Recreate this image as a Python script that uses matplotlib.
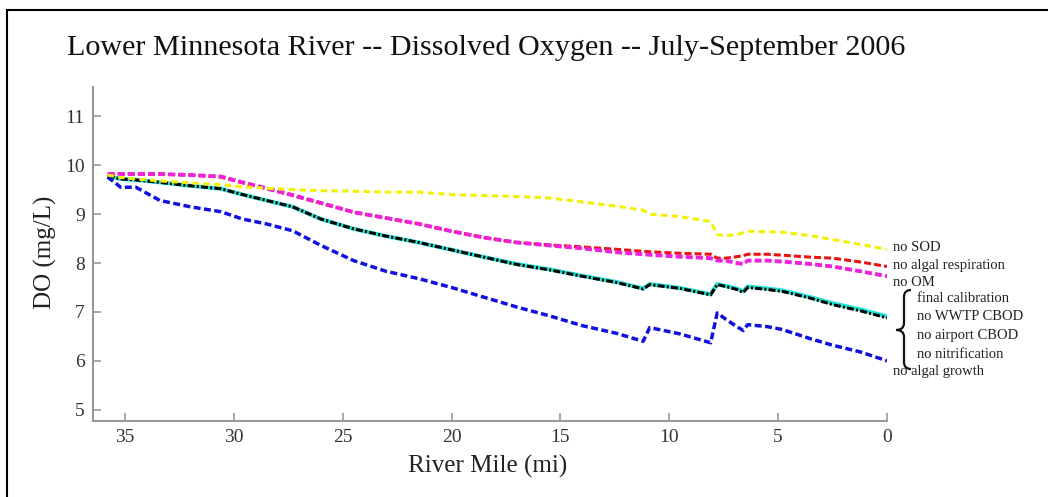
import matplotlib
matplotlib.use('Agg')
import matplotlib.pyplot as plt
from matplotlib.patches import Rectangle, PathPatch
from matplotlib.path import Path

plt.rcParams['font.family'] = ['Liberation Serif', 'DejaVu Serif']

# river mile grid shared by all scenarios
miles = [35.8, 35.2, 34.5, 33.4, 32.0, 30.6, 29.6, 28.5, 27.3, 26.0, 24.5, 23.0,
         21.5, 20.0, 18.5, 17.0, 15.5, 14.0, 12.4, 11.2, 10.9, 9.5, 8.1, 7.8,
         7.4, 6.9, 6.6, 6.4, 5.5, 4.8, 3.5, 2.5, 1.2, 0.0]

no_sod = [9.80, 9.75, 9.72, 9.68, 9.64, 9.60, 9.56, 9.53, 9.50, 9.48, 9.47, 9.45,
          9.45, 9.40, 9.38, 9.36, 9.33, 9.25, 9.16, 9.08, 9.00, 8.95, 8.85, 8.58,
          8.56, 8.58, 8.62, 8.65, 8.64, 8.63, 8.56, 8.48, 8.38, 8.28]

no_resp = [9.82, 9.82, 9.82, 9.82, 9.80, 9.76, 9.64, 9.52, 9.38, 9.22, 9.04, 8.92,
           8.80, 8.65, 8.52, 8.42, 8.37, 8.33, 8.28, 8.24, 8.23, 8.20, 8.18, 8.10,
           8.10, 8.13, 8.15, 8.18, 8.18, 8.16, 8.12, 8.10, 8.02, 7.93]

no_om = [9.82, 9.82, 9.82, 9.82, 9.80, 9.77, 9.65, 9.53, 9.39, 9.23, 9.04, 8.92,
         8.80, 8.65, 8.52, 8.42, 8.36, 8.30, 8.22, 8.18, 8.17, 8.13, 8.10, 8.05,
         8.05, 8.00, 7.98, 8.05, 8.05, 8.03, 7.98, 7.93, 7.83, 7.73]

final_cal = [9.78, 9.72, 9.70, 9.65, 9.58, 9.52, 9.40, 9.28, 9.15, 8.90, 8.70, 8.55,
             8.42, 8.27, 8.12, 7.97, 7.86, 7.73, 7.60, 7.47, 7.56, 7.48, 7.35, 7.56,
             7.52, 7.46, 7.40, 7.50, 7.46, 7.42, 7.28, 7.15, 7.02, 6.88]

no_nitrif = [9.78, 9.72, 9.70, 9.65, 9.58, 9.52, 9.40, 9.28, 9.15, 8.90, 8.70, 8.55,
             8.42, 8.27, 8.12, 7.98, 7.87, 7.74, 7.61, 7.48, 7.57, 7.49, 7.36, 7.57,
             7.53, 7.48, 7.42, 7.52, 7.48, 7.44, 7.30, 7.18, 7.05, 6.91]

no_growth = [9.76, 9.55, 9.55, 9.28, 9.15, 9.05, 8.90, 8.80, 8.66, 8.36, 8.05, 7.83,
             7.68, 7.50, 7.30, 7.10, 6.92, 6.72, 6.56, 6.40, 6.68, 6.55, 6.37, 6.98,
             6.85, 6.70, 6.62, 6.74, 6.70, 6.64, 6.45, 6.32, 6.18, 6.00]

labels_top = ["no SOD", "no algal respiration", "no OM"]
labels_brace = ["final calibration", "no WWTP CBOD", "no airport CBOD", "no nitrification"]
label_bottom = "no algal growth"

W, H = 1048, 497
fig = plt.figure(figsize=(W / 100, H / 100), dpi=100)
ax = fig.add_axes([93 / W, 1 - 421 / H, (887 - 93) / W, (421 - 87) / H])

ax.plot(miles, no_nitrif, color='#22e6d6', lw=2.9, solid_capstyle='butt')
ax.plot(miles, final_cal, color='black', lw=2.2, dashes=(2.3, 0.7, 0.7, 0.7))
ax.plot(miles, no_growth, color='#1010e0', lw=2.5, dashes=(2.0, 1.0))
ax.plot(miles, no_resp, color='#ee1111', lw=2.2, dashes=(2.3, 1.0))
ax.plot(miles, no_om, color='#ee22dd', lw=2.8, dashes=(1.8, 0.8))
ax.plot(miles, no_sod, color='#f2f200', lw=2.2, dashes=(2.1, 1.4))

ax.set_xlim(36.47, 0)
ax.set_ylim(4.77, 11.6)
ax.set_xticks([35, 30, 25, 20, 15, 10, 5, 0])
ax.set_yticks([5, 6, 7, 8, 9, 10, 11])
for s in ['top', 'right']:
    ax.spines[s].set_visible(False)
for s in ['left', 'bottom']:
    ax.spines[s].set_color('#999999')
    ax.spines[s].set_linewidth(1.5)
ax.tick_params(direction='in', length=6, width=1.2, color='#999999',
               labelsize=14, labelcolor='#333333', pad=6)

fig.text(486 / W, 1 - 48 / H, 'Lower Minnesota River -- Dissolved Oxygen -- July-September 2006',
         ha='center', va='center', fontsize=21.7, color='#111111')
fig.text(488 / W, 1 - 466 / H, 'River Mile (mi)', ha='center', va='center',
         fontsize=18, color='#222222')
fig.text(45 / W, 1 - 252 / H, 'DO (mg/L)', ha='center', va='center', rotation=90,
         fontsize=18, color='#222222')

# scenario labels at the right end
for txt, yp in zip(labels_top, [248, 266, 283]):
    fig.text(893 / W, 1 - yp / H, txt, ha='left', va='center', fontsize=10.5, color='#222222')
for txt, yp in zip(labels_brace, [299, 317, 336, 354]):
    fig.text(917 / W, 1 - yp / H, txt, ha='left', va='center', fontsize=10.5, color='#222222')
fig.text(893 / W, 1 - 372 / H, label_bottom, ha='left', va='center', fontsize=10.5, color='#222222')

# curly brace drawn in pixel coords
def px(x, y):
    return (x / W, 1 - y / H)

codes = [Path.MOVETO, Path.CURVE3, Path.CURVE3, Path.LINETO,
         Path.CURVE3, Path.CURVE3, Path.LINETO,
         Path.CURVE3, Path.CURVE3, Path.LINETO,
         Path.LINETO, Path.CURVE3, Path.CURVE3]
verts = [px(911, 290), px(904, 290), px(904, 297), px(904, 323),
         px(904, 330), px(896, 330), px(896, 330),
         px(904, 330), px(904, 337), px(904, 350),
         px(904, 362), px(904, 369), px(911, 369)]
fig.add_artist(PathPatch(Path(verts, codes), transform=fig.transFigure,
                         fill=False, lw=1.6, color='#111111'))

# outer frame of the original figure
fig.add_artist(Rectangle((7 / W, -0.1), 1.2, 1 - 10 / H + 0.1, transform=fig.transFigure,
                         fill=False, lw=1.5, color='black'))

fig.savefig('out.png', dpi=100)
